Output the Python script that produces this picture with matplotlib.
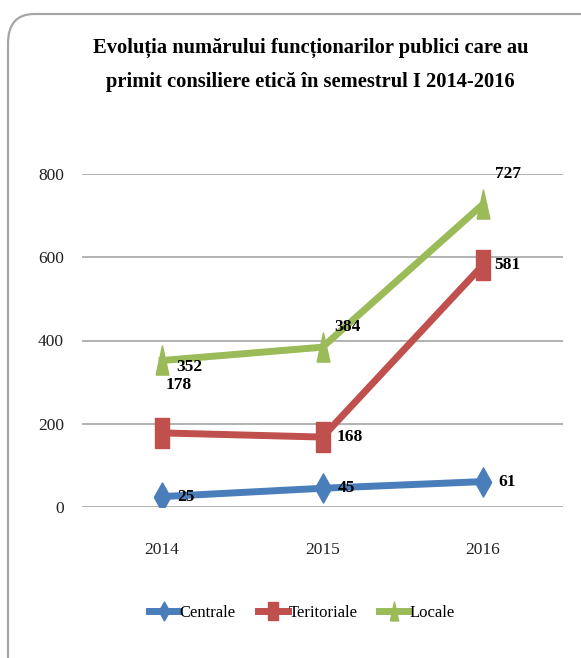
import numpy as np
import matplotlib
matplotlib.use('Agg')
import matplotlib.pyplot as plt
from matplotlib.patches import FancyBboxPatch

# data
years = ['2014', '2015', '2016']
centrale = [25, 45, 61]
teritoriale = [178, 168, 581]
locale = [352, 384, 727]
y_ticks = [0, 200, 400, 600, 800]

title = 'Evoluția numărului funcționarilor publici care au\nprimit consiliere etică în semestrul I 2014-2016'

# label offsets (pixels, right/up) as placed in the original
off_centrale = [(24, 0), (24, 0), (24, 0)]
off_teritoriale = [(17, 48), (27, 0), (25, 0)]
off_locale = [(27, -7), (25, 20), (25, 30)]

plt.rcParams['font.family'] = ['Liberation Serif', 'DejaVu Serif']

# tall markers (the original picture is squeezed sideways)
diamond = [(-0.28, 0), (0, 0.5), (0.28, 0), (0, -0.5), (-0.28, 0)]
square = [(-0.25, -0.5), (0.25, -0.5), (0.25, 0.5), (-0.25, 0.5), (-0.25, -0.5)]
triangle = [(-0.22, -0.5), (0.22, -0.5), (0, 0.5), (-0.22, -0.5)]

fig = plt.figure(figsize=(5.81, 6.58), dpi=100)

frame = FancyBboxPatch((8 / 581, -0.2), 1.2, 1.2 - 14 / 658,
                       boxstyle='round,pad=0,rounding_size=0.045',
                       transform=fig.transFigure, facecolor='none',
                       edgecolor='#a6a6a6', linewidth=1.6, zorder=-5)
fig.patches.append(frame)

ax = fig.add_axes([82 / 581, 1 - 507 / 658, (563 - 82) / 581, (507 - 174) / 658])
ax.set_facecolor('none')

x = np.arange(len(years))
series = [
    ('Centrale', centrale, '#4a7ebb', diamond, off_centrale),
    ('Teritoriale', teritoriale, '#c0504d', square, off_teritoriale),
    ('Locale', locale, '#9bbb59', triangle, off_locale),
]
for name, vals, col, mk, offs in series:
    ax.plot(x, vals, color=col, lw=5, marker=mk, markersize=21,
            markerfacecolor=col, markeredgecolor=col, label=name, zorder=3)
    for xi, v, (dx, dy) in zip(x, vals, offs):
        ax.annotate(str(v), (xi, v), xytext=(dx * 0.72, dy * 0.72),
                    textcoords='offset points', ha='center', va='center',
                    fontsize=12.5, fontweight='bold', color='black', zorder=4)

ax.set_xlim(-0.5, 2.5)
ax.set_ylim(0, 800)
ax.set_yticks(y_ticks)
ax.set_xticks(x)
ax.set_xticklabels(years)
ax.yaxis.grid(True, color='#a6a6a6', lw=1.2)
ax.set_axisbelow(True)
for s in ax.spines.values():
    s.set_visible(False)
ax.tick_params(length=0, labelsize=12.5, colors='#222222')
ax.tick_params(axis='y', pad=13)
ax.tick_params(axis='x', pad=25)

fig.text(0.534, 1 - 65 / 658, title, ha='center', va='center',
         fontsize=14.8, fontweight='bold', linespacing=1.95)

leg = ax.legend(loc='center', bbox_to_anchor=(0.52, 1 - 613 / 658), bbox_transform=fig.transFigure,
                ncol=3, frameon=False, fontsize=12, markerscale=0.65,
                handlelength=1.8, handletextpad=0.05, columnspacing=1.3)

fig.savefig('out.png', dpi=100)
